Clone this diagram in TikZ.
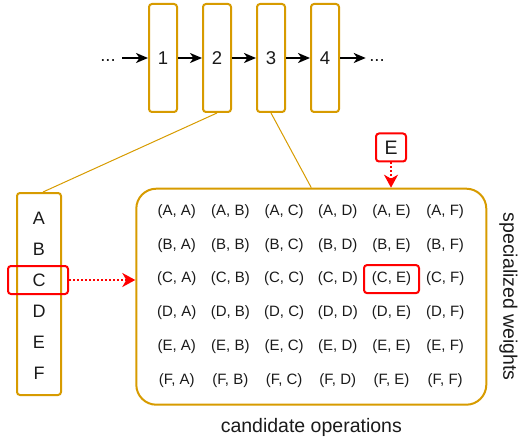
\documentclass[tikz,border=0pt]{standalone}
\usepackage{fontspec}
\setmainfont{Liberation Sans}
\usetikzlibrary{arrows.meta,positioning}
\definecolor{Gold}{HTML}{D79B00}
\definecolor{Pick}{HTML}{FF0000}
\definecolor{Ink}{HTML}{1A1A1A}
\tikzset{layer/.style={draw=Gold,line width=2pt,rounded corners=3pt,minimum width=28pt,minimum height=108pt,inner sep=0pt,font=\fontsize{18.5}{22}\selectfont,text=Ink},
  dots/.style={font=\fontsize{18.5}{22}\selectfont,text=Ink,text height=.72em,text depth=0pt},
  letter/.style={font=\fontsize{18}{22}\selectfont,text=Ink,inner sep=0pt},
  flow/.style={-{Stealth[length=12pt,width=10pt,inset=3.5pt]},draw=black,line width=2pt},
  link/.style={draw=Gold,line width=1pt},
  pick/.style={draw=Pick,line width=2pt,rounded corners=3pt,inner sep=0pt},
  pickflow/.style={-{Stealth[length=13pt,width=14pt,inset=4pt]},draw=Pick,line width=2pt,dotted},
  cell/.style={font=\fontsize{15}{18}\selectfont,text=Ink,inner sep=0pt},
  caption/.style={font=\fontsize{19.5}{24}\selectfont,text=Ink,inner sep=0pt}}
\begin{document}
\begin{tikzpicture}[x=1pt,y=-1pt]
\useasboundingbox (0,0) rectangle (518,438);
\foreach \n in {1,...,4}
  \node[layer] (s\n) at (109+54*\n,58) {\n};
\node[dots] (dl) at (108,58) {...};
\node[dots] (dr) at (377,58) {...};
\draw[flow,shorten <=3pt] (dl) -- (s1);
\foreach \a/\b in {1/2,2/3,3/4}
  \draw[flow] (s\a) -- (s\b);
\draw[flow] (s4) -- (dr);
\node[layer,minimum width=44pt,minimum height=202pt] (cols) at (39,294) {};
\foreach \op [count=\i] in {A,B,C,D,E,F}
  \node[letter] (l\op) at (39,187+31*\i) {\op};
\node[draw=Gold,line width=2pt,rounded corners=20pt,minimum width=350pt,minimum height=216pt] (ops) at (311.3,296.7) {};
\foreach \rw [count=\i] in {A,B,C,D,E,F}
  \foreach \cl [count=\j] in {A,B,C,D,E,F}
    \node[cell] (g\rw\cl) at (123+53.7*\j,178+33.7*\i) {(\rw, \cl)};
\draw[link] (s2.south) -- ([xshift=4pt]cols.north);
\draw[link] (s3.south) -- (ops.north);
\node[pick,minimum width=60pt,minimum height=28pt] (pickC) at ([xshift=-1pt]lC) {};
\node[pick,minimum width=55pt,minimum height=28pt] (pickCE) at (gCE) {};
\node[pick,minimum width=30pt,minimum height=28pt,font=\fontsize{19.5}{23}\selectfont,text=Ink] (keyE) at (391,147.5) {E};
\draw[pickflow] (pickC.east) -- (pickC.east -| ops.west);
\draw[pickflow] (keyE.south) -- (keyE.south |- ops.north);
\node[caption,below=12pt of ops] (capOps) {candidate operations};
\node[caption,rotate=-90] (capW) at ([xshift=21pt]ops.east) {specialized weights};
\end{tikzpicture}
\end{document}
